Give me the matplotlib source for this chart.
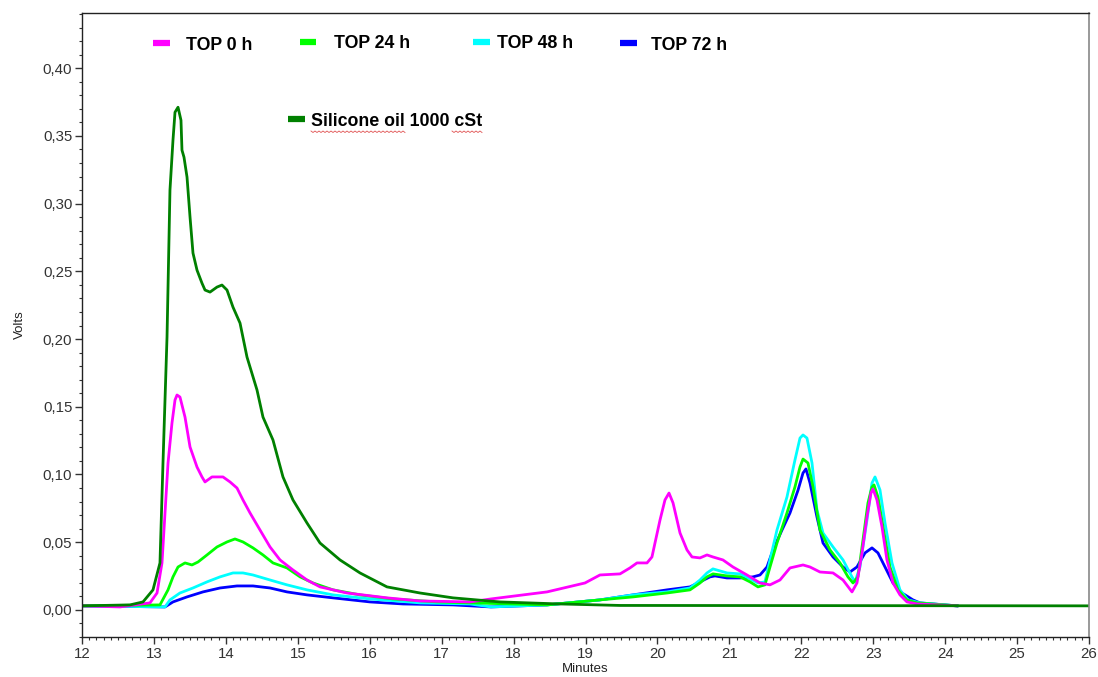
import numpy as np
import matplotlib
matplotlib.use("Agg")
import matplotlib.pyplot as plt
from matplotlib.lines import Line2D
from matplotlib.ticker import MultipleLocator, FuncFormatter

plt.rcParams['font.family'] = ['Liberation Sans', 'DejaVu Sans']

# ---- chromatogram traces: retention time (min) and detector signal (V) ----
sil_t = [12.000, 12.667, 12.848, 12.987, 13.084, 13.126, 13.182, 13.223, 13.265, 13.293,
         13.335, 13.376, 13.390, 13.418, 13.460, 13.502, 13.543, 13.599, 13.668, 13.710,
         13.780, 13.877, 13.946, 14.016, 14.099, 14.197, 14.294, 14.433, 14.516, 14.655,
         14.794, 14.933, 15.128, 15.309, 15.587, 15.865, 16.240, 16.699, 17.158, 17.811,
         18.645, 19.480, 26.000]
sil_v = [0.003, 0.0037, 0.0059, 0.0148, 0.0347, 0.1085, 0.2015, 0.310, 0.347, 0.3675,
         0.3712, 0.3616, 0.3395, 0.3343, 0.3196, 0.290, 0.2635, 0.2509, 0.2413, 0.2362,
         0.2347, 0.2384, 0.2399, 0.2362, 0.2236, 0.2118, 0.1867, 0.1624, 0.1424, 0.1255,
         0.0982, 0.0812, 0.0642, 0.0494, 0.0369, 0.0273, 0.0170, 0.0125, 0.0089, 0.0059,
         0.0044, 0.0033, 0.003]

top0_t = [12.000, 12.528, 12.945, 13.043, 13.112, 13.154, 13.196, 13.251, 13.293, 13.321,
          13.362, 13.432, 13.502, 13.599, 13.668, 13.710, 13.807, 13.877, 13.960, 14.058,
          14.155, 14.238, 14.336, 14.475, 14.614, 14.753, 14.933, 15.128, 15.309, 15.684,
          16.240, 16.699, 17.394, 17.686, 18.465, 18.993, 19.201, 19.480, 19.618, 19.716,
          19.855, 19.924, 19.966, 20.036, 20.105, 20.161, 20.217, 20.314, 20.411, 20.481,
          20.592, 20.689, 20.772, 20.911, 21.050, 21.245, 21.426, 21.565, 21.704, 21.843,
          22.024, 22.121, 22.260, 22.441, 22.580, 22.705, 22.774, 22.844, 22.913, 22.969,
          22.997, 23.052, 23.122, 23.191, 23.275, 23.372, 23.469, 23.608, 24.165]
top0_v = [0.003, 0.0022, 0.0052, 0.0125, 0.0347, 0.0716, 0.1085, 0.1380, 0.1550, 0.1587,
          0.1572, 0.1424, 0.1203, 0.1055, 0.0982, 0.0945, 0.0982, 0.0982, 0.0982, 0.0945,
          0.0900, 0.0812, 0.0716, 0.0590, 0.0465, 0.0369, 0.0295, 0.0221, 0.0170, 0.0125,
          0.0089, 0.0066, 0.0059, 0.0081, 0.0133, 0.0199, 0.0258, 0.0266, 0.0310, 0.0347,
          0.0347, 0.0391, 0.0494, 0.0664, 0.0812, 0.0863, 0.0790, 0.0568, 0.0443, 0.0391,
          0.0384, 0.0406, 0.0391, 0.0369, 0.0317, 0.0258, 0.0199, 0.0185, 0.0221, 0.0310,
          0.0332, 0.0317, 0.0280, 0.0273, 0.0221, 0.0133, 0.0199, 0.0421, 0.0686, 0.0863,
          0.0893, 0.0812, 0.0613, 0.0369, 0.0199, 0.0111, 0.0059, 0.0044, 0.003]

top24_t = [12.000, 13.084, 13.196, 13.265, 13.335, 13.432, 13.529, 13.613, 13.738, 13.877,
           14.016, 14.127, 14.238, 14.377, 14.516, 14.655, 14.850, 15.031, 15.211, 15.490,
           15.865, 16.324, 16.935, 17.394, 18.465, 19.201, 19.660, 20.133, 20.453, 20.592,
           20.689, 20.772, 20.967, 21.148, 21.287, 21.398, 21.495, 21.565, 21.662, 21.801,
           21.912, 21.982, 22.024, 22.093, 22.163, 22.260, 22.399, 22.538, 22.649, 22.719,
           22.788, 22.858, 22.927, 22.983, 23.011, 23.066, 23.136, 23.233, 23.344, 23.469,
           23.608, 24.165]
top24_v = [0.003, 0.0037, 0.0148, 0.0244, 0.0317, 0.0347, 0.0332, 0.0354, 0.0406, 0.0465,
           0.0502, 0.0524, 0.0502, 0.0458, 0.0406, 0.0347, 0.0310, 0.0244, 0.0199, 0.0148,
           0.0111, 0.0081, 0.0059, 0.0052, 0.0037, 0.0074, 0.0096, 0.0125, 0.0148, 0.0199,
           0.0244, 0.0266, 0.0251, 0.0244, 0.0207, 0.0170, 0.0185, 0.0317, 0.0494, 0.0716,
           0.0908, 0.1055, 0.1114, 0.1085, 0.0908, 0.0590, 0.0443, 0.0347, 0.0244, 0.0199,
           0.0244, 0.0517, 0.0790, 0.0908, 0.0923, 0.0834, 0.0613, 0.0317, 0.0148, 0.0074,
           0.0052, 0.003]

top48_t = [12.000, 13.154, 13.223, 13.362, 13.543, 13.738, 13.919, 14.099, 14.238, 14.377,
           14.614, 14.850, 15.128, 15.490, 16.004, 16.699, 17.394, 17.686, 18.465, 19.201,
           19.660, 20.133, 20.453, 20.592, 20.689, 20.772, 20.967, 21.148, 21.287, 21.398,
           21.495, 21.565, 21.662, 21.801, 21.912, 21.982, 22.024, 22.079, 22.149, 22.218,
           22.302, 22.441, 22.580, 22.705, 22.747, 22.816, 22.913, 22.983, 23.025, 23.094,
           23.164, 23.261, 23.372, 23.483, 23.650, 24.165]
top48_v = [0.003, 0.0022, 0.0074, 0.0125, 0.0162, 0.0207, 0.0244, 0.0273, 0.0273, 0.0258,
           0.0221, 0.0185, 0.0148, 0.0111, 0.0081, 0.0052, 0.0044, 0.0022, 0.0037, 0.0074,
           0.0111, 0.0133, 0.0162, 0.0221, 0.0273, 0.0303, 0.0273, 0.0266, 0.0229, 0.0199,
           0.0207, 0.0369, 0.0590, 0.0834, 0.1107, 0.1269, 0.1292, 0.1269, 0.1085, 0.0738,
           0.0568, 0.0465, 0.0369, 0.0244, 0.0207, 0.0317, 0.0664, 0.0937, 0.0982, 0.0886,
           0.0642, 0.0347, 0.0148, 0.0074, 0.0052, 0.003]

top72_t = [12.000, 13.154, 13.265, 13.460, 13.682, 13.919, 14.155, 14.377, 14.614, 14.850,
           15.128, 15.490, 16.004, 16.463, 17.158, 17.686, 18.465, 19.201, 19.660, 20.133,
           20.453, 20.592, 20.731, 20.800, 20.967, 21.148, 21.329, 21.426, 21.523, 21.607,
           21.732, 21.843, 21.954, 22.024, 22.065, 22.121, 22.218, 22.302, 22.441, 22.580,
           22.677, 22.774, 22.886, 22.983, 23.066, 23.164, 23.275, 23.400, 23.553, 23.650,
           24.165]
top72_v = [0.003, 0.0022, 0.0059, 0.0096, 0.0133, 0.0162, 0.0177, 0.0177, 0.0162, 0.0133,
           0.0111, 0.0089, 0.0059, 0.0044, 0.0037, 0.0022, 0.0037, 0.0074, 0.0111, 0.0148,
           0.0170, 0.0207, 0.0244, 0.0251, 0.0236, 0.0236, 0.0244, 0.0258, 0.0317, 0.0443,
           0.0590, 0.0716, 0.0883, 0.1011, 0.1041, 0.0937, 0.0686, 0.0494, 0.0391, 0.0317,
           0.0280, 0.0317, 0.0421, 0.0458, 0.0421, 0.0317, 0.0199, 0.0125, 0.0074, 0.0052,
           0.003]

series_labels = ["TOP 0 h", "TOP 24 h", "TOP 48 h", "TOP 72 h"]
silicone_label = "Silicone oil 1000 cSt"

x_ticks = list(range(12, 27))
y_ticks = [0.00, 0.05, 0.10, 0.15, 0.20, 0.25, 0.30, 0.35, 0.40]

col_sil = "#008000"
col_0 = "#FF00FF"
col_24 = "#00FF00"
col_48 = "#00FFFF"
col_72 = "#0000FF"

fig = plt.figure(figsize=(10.98, 6.77), dpi=100)
ax = fig.add_axes([82 / 1098, 1 - 637 / 677, (1089 - 82) / 1098, (637 - 12.7) / 677])

lw = 2.0
ax.plot(top72_t, top72_v, color=col_72, lw=lw, solid_joinstyle="round")
ax.plot(top48_t, top48_v, color=col_48, lw=lw, solid_joinstyle="round")
ax.plot(top24_t, top24_v, color=col_24, lw=lw, solid_joinstyle="round")
ax.plot(top0_t, top0_v, color=col_0, lw=lw, solid_joinstyle="round")
ax.plot(sil_t, sil_v, color=col_sil, lw=lw, solid_joinstyle="round")

ax.set_xlim(12, 26)
ax.set_ylim(-0.02, 0.441)
ax.set_xticks(x_ticks)
ax.set_yticks(y_ticks)
ax.xaxis.set_minor_locator(MultipleLocator(0.1))
ax.yaxis.set_minor_locator(MultipleLocator(0.01))
ax.yaxis.set_major_formatter(FuncFormatter(lambda v, p: f"{v:.2f}".replace(".", ",")))
ax.tick_params(which="major", length=5, width=1, color="#333333", labelsize=10.8,
               labelcolor="#333333", pad=2)
ax.tick_params(which="minor", length=2.5, width=0.8, color="#333333")

for side in ("left", "bottom", "top"):
    ax.spines[side].set_color("#222222")
    ax.spines[side].set_linewidth(1.0)
ax.spines["right"].set_color("#888888")
ax.spines["right"].set_linewidth(1.2)

ax.set_xlabel("Minutes", fontsize=9.5, color="#222222", labelpad=2)
ax.set_ylabel("Volts", fontsize=9.5, color="#222222", labelpad=12)

# ---- legend entries placed along the top of the plot ----
def fx(px):
    return px / 1098

def fy(py):
    return 1 - py / 677

entries = [(col_0, series_labels[0], 153, 170, 186, 45),
           (col_24, series_labels[1], 300, 316, 334, 44),
           (col_48, series_labels[2], 473, 490, 497, 44),
           (col_72, series_labels[3], 620, 637, 651, 45),
           (col_sil, silicone_label, 288, 305, 311, 121)]
for col, lab, h0, h1, tx, ty in entries:
    fig.add_artist(Line2D([fx(h0), fx(h1)], [fy(ty - 2), fy(ty - 2)], color=col,
                          lw=4.5, solid_capstyle="butt"))
    fig.text(fx(tx), fy(ty), lab, fontsize=12.8, fontweight="bold", color="black",
             ha="left", va="center")

# spelling squiggles under the oil label
for a, b in [(311, 405), (452, 483)]:
    xs = np.arange(a, b + 1, 2.0)
    ys = 131 + np.where(np.arange(len(xs)) % 2 == 0, 0.0, 1.5)
    fig.add_artist(Line2D(fx(xs), fy(ys), color="#E05050", lw=0.6))

fig.savefig("out.png", dpi=100)
